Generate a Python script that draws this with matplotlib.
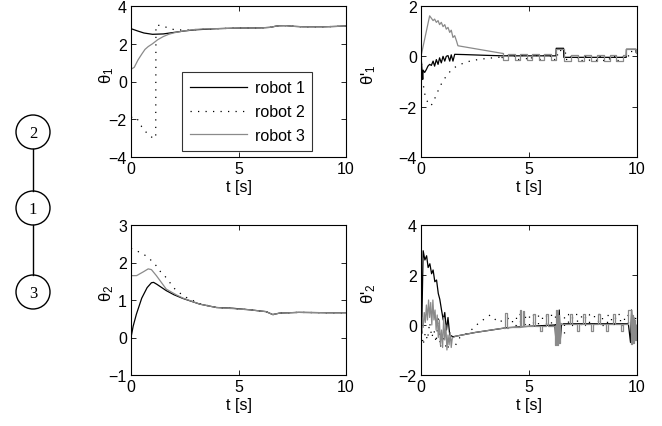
import matplotlib
matplotlib.use("Agg")
import matplotlib.pyplot as plt
from matplotlib.patches import Circle

plt.rcParams['font.family'] = ['Liberation Sans', 'DejaVu Sans']
plt.rcParams['mathtext.fontset'] = 'custom'
plt.rcParams['mathtext.rm'] = 'Liberation Sans'
plt.rcParams['mathtext.it'] = 'Liberation Sans'
plt.rcParams['mathtext.bf'] = 'Liberation Sans:bold'

# ---------------- data ----------------
labels = ["robot 1", "robot 2", "robot 3"]
xticks = [0, 5, 10]

# theta_1
tl_t1 = [0, 0.3, 0.6, 1.0, 1.5, 2.0, 2.5, 3.0, 4.0, 5.0, 6.0, 6.5, 6.8, 7.2, 7.6, 8.0, 9.0, 9.6, 10.0]
tl_v1 = [2.8, 2.68, 2.57, 2.5, 2.52, 2.6, 2.68, 2.74, 2.8, 2.83, 2.84, 2.87, 2.95, 2.96, 2.92, 2.9, 2.9, 2.92, 2.95]
tl_t2 = [0, 0.25, 0.5, 0.75, 1.0, 1.15, 1.16, 1.4, 1.7, 2.0, 2.5, 3.0, 4.0, 5.0, 6.0, 6.5, 6.8, 7.2, 7.6, 8.0, 9.0, 9.6, 10.0]
tl_v2 = [-1.9, -1.9, -2.4, -2.75, -2.98, -3.0, 2.98, 2.97, 2.85, 2.75, 2.72, 2.75, 2.8, 2.83, 2.84, 2.87, 2.95, 2.96, 2.92, 2.9, 2.9, 2.92, 2.95]
tl_t3 = [0, 0.15, 0.33, 0.5, 0.65, 0.8, 1.0, 1.25, 1.5, 1.75, 2.0, 2.4, 3.0, 3.5, 4.0, 5.0, 6.0, 6.5, 6.8, 7.2, 7.6, 8.0, 9.0, 9.6, 10.0]
tl_v3 = [0.65, 0.75, 1.15, 1.45, 1.7, 1.85, 2.0, 2.22, 2.38, 2.5, 2.58, 2.67, 2.76, 2.79, 2.8, 2.83, 2.84, 2.87, 2.95, 2.96, 2.92, 2.9, 2.9, 2.92, 2.95]
tl_yticks = [-4, -2, 0, 2, 4]

# theta_1 dot
tr_t1 = [0, 0.08, 0.1, 0.17, 0.25, 0.32, 0.40, 0.48, 0.56, 0.63, 0.71, 0.79, 0.86, 0.94, 1.02, 1.10, 1.17, 1.25,
         1.33, 1.40, 1.48, 1.56, 2.0, 3.0, 3.8, 5.0, 6.25, 6.26, 6.6, 6.61, 7.5, 8.5, 9.5, 9.51, 9.95, 9.96, 10.0]
tr_v1 = [0, -0.9, -0.55, -0.64, -0.52, -0.39, -0.32, -0.36, -0.19, -0.39, -0.13, -0.32, -0.06, -0.26, 0.0, -0.19, 0.0, 0.03,
         -0.19, 0.06, -0.19, 0.08, 0.07, 0.04, 0.02, 0.02, 0.02, 0.32, 0.32, -0.04, -0.04, -0.04, -0.04, 0.28, 0.28, 0.15, 0.15]
tr_t2 = [0, 0.08, 0.16, 0.25, 0.35, 0.45, 0.55, 0.7, 0.85, 1.0, 1.2, 1.4, 1.6, 1.8, 2.0, 2.3, 2.7, 3.2, 3.7]
tr_v2 = [0, -0.95, -1.45, -1.72, -1.88, -1.97, -1.85, -1.55, -1.25, -1.0, -0.75, -0.55, -0.42, -0.33, -0.26, -0.18, -0.12, -0.07, -0.03]
tr_t2_tail = [3.7, 4.0, 4.3, 4.55, 4.85, 5.1, 5.4, 5.65, 5.95, 6.3, 6.65, 6.9, 7.2, 7.5, 7.8, 8.1, 8.4, 8.7, 9.0, 9.3, 9.6, 10.0]
tr_v2_tail = [-0.03, 0.05, -0.1, 0.05, -0.1, 0.05, -0.1, 0.05, -0.1, 0.25, -0.1, 0.0, -0.15, 0.0, -0.15, 0.0, -0.15, 0.0, -0.15, 0.0, 0.2, 0.2]
tr_t3 = [0, 0.40, 0.56, 0.63, 0.71, 0.79, 0.86, 0.94, 1.02, 1.10, 1.17, 1.25, 1.33, 1.40, 1.48, 1.56, 1.64, 1.71, 3.75]
tr_v3 = [0, 1.61, 1.42, 1.48, 1.35, 1.42, 1.26, 1.35, 1.18, 1.26, 1.08, 1.15, 0.95, 1.04, 0.75, 0.82, 0.62, 0.42, 0.12]
tr_t3_tail = [3.75, 3.8, 4.05, 4.35, 4.6, 4.9, 5.15, 5.45, 5.7, 6.0, 6.25, 6.6, 6.95, 7.25, 7.55, 7.85, 8.15, 8.45, 8.75, 9.05, 9.35, 9.5, 9.95, 10.0]
tr_v3_tail = [0.12, -0.15, 0.1, -0.15, 0.1, -0.15, 0.1, -0.15, 0.1, -0.15, 0.3, -0.18, 0.05, -0.18, 0.05, -0.18, 0.05, -0.18, 0.05, -0.18, 0.05, 0.3, 0.12, 0.12]
tr_yticks = [-4, -2, 0, 2]

# theta_2
bl_t1 = [0, 0.1, 0.25, 0.5, 0.75, 0.95, 1.05, 1.2, 1.64, 2.0, 2.42, 3.2, 3.97, 4.74, 5.5, 6.28, 6.6, 6.9, 7.8, 9.2, 10]
bl_v1 = [0, 0.3, 0.62, 1.05, 1.33, 1.46, 1.47, 1.42, 1.25, 1.14, 1.04, 0.89, 0.8, 0.78, 0.74, 0.69, 0.61, 0.65, 0.67, 0.66, 0.66]
bl_t2 = [0.0, 0.26, 0.57, 0.88, 1.18, 1.33, 1.56, 1.8, 2.1, 2.57, 3.2, 3.97, 4.74, 5.5, 6.28, 6.6, 6.9, 7.8, 9.2, 10]
bl_v2 = [2.38, 2.31, 2.23, 2.09, 1.91, 1.78, 1.65, 1.47, 1.25, 1.07, 0.9, 0.8, 0.77, 0.74, 0.69, 0.61, 0.65, 0.67, 0.66, 0.66]
bl_t3 = [0, 0.26, 0.57, 0.8, 0.95, 1.18, 1.41, 1.64, 2.1, 2.42, 3.2, 3.97, 4.74, 5.5, 6.28, 6.6, 6.9, 7.8, 9.2, 10]
bl_v3 = [1.65, 1.65, 1.75, 1.83, 1.81, 1.65, 1.47, 1.29, 1.14, 1.05, 0.89, 0.8, 0.77, 0.74, 0.69, 0.61, 0.65, 0.67, 0.66, 0.66]
bl_yticks = [-1, 0, 1, 2, 3]

# theta_2 dot
br_t1 = [0, 0.03, 0.1, 0.18, 0.26, 0.33, 0.41, 0.49, 0.56, 0.64, 0.72, 0.8, 0.87, 0.95, 1.03, 1.1, 1.18, 1.25, 1.33,
         1.48, 2.5, 3.96, 5.05, 6.2, 6.25, 6.3, 6.35, 6.4, 6.45, 6.5, 6.6, 8.0, 9.6, 9.7, 9.75, 9.8, 9.85, 9.9, 9.95, 10.0]
br_v1 = [0, -0.3, 2.97, 2.6, 2.77, 2.3, 2.45, 2.05, 2.2, 1.73, 1.8, 1.26, 1.03, 0.6, 0.2, 0.5, -0.2, 0.3, -0.4,
         -0.47, -0.3, -0.11, -0.05, 0.0, -0.7, 0.5, -0.7, 0.6, -0.6, 0.0, 0.05, 0.05, 0.05, -0.7, 0.6, -0.7, 0.3, -0.5, 0.0, -0.6]
br_t2 = [0, 0.1, 0.2, 0.3, 0.4, 0.5, 0.6, 0.7, 0.8, 0.9, 1.0, 1.2, 1.4, 1.6, 1.8, 2.2, 2.7, 3.2, 3.6, 4.0]
br_v2 = [0, -0.8, -0.3, -0.6, 0.1, -0.5, -0.2, -0.7, 0.3, -0.9, -0.4, -1.0, -0.6, -0.8, -0.5, -0.3, 0.1, 0.4, 0.1, 0.3]
br_t2_tail = [4.0, 4.2, 4.4, 4.6, 4.8, 5.0, 5.2, 5.4, 5.6, 5.8, 6.0, 6.2, 6.4, 6.6, 6.8, 7.0, 7.2, 7.4, 7.6, 7.8,
              8.0, 8.2, 8.4, 8.6, 8.8, 9.0, 9.2, 9.4, 9.6, 9.8, 10.0]
br_v2_tail = [0.3, 0.0, 0.45, 0.05, 0.4, 0.0, 0.45, -0.05, 0.4, 0.05, 0.45, 0.0, -0.4, 0.45, 0.0, 0.45, 0.05, 0.4, 0.0, 0.45,
              0.05, 0.45, 0.0, 0.4, 0.05, 0.45, 0.0, 0.4, 0.05, 0.3, 0.3]
br_t3 = [0, 0.05, 0.1, 0.15, 0.2, 0.25, 0.3, 0.35, 0.4, 0.45, 0.5, 0.55, 0.6, 0.65, 0.7, 0.75, 0.8, 0.85, 0.9, 0.95,
         1.0, 1.05, 1.1, 1.15, 1.2, 1.25, 1.3, 1.35, 1.4, 1.45, 1.5, 1.6, 2.5, 3.85]
br_v3 = [0, 0.3, -0.1, 0.5, 0.1, 0.8, 0.2, 1.0, 0.3, 0.9, 0.0, 1.0, 0.2, 0.6, -0.2, 0.4, -0.5, 0.2, -0.8, -0.2,
         -0.9, 0.3, -0.6, 0.0, -1.0, -0.4, -0.8, -0.3, -0.9, -0.5, -0.5, -0.45, -0.3, -0.12]
br_t3_tail = [3.85, 3.9, 3.97, 4.02, 4.6, 4.65, 4.72, 4.77, 5.2, 5.3, 5.5, 5.6, 5.8, 5.9, 6.2, 6.25, 6.3, 6.35, 6.4, 6.45,
              6.5, 6.9, 7.0, 7.2, 7.3, 7.5, 7.6, 7.85, 7.95, 8.2, 8.3, 8.55, 8.65, 8.9, 9.0, 9.25, 9.35, 9.6, 9.7, 9.75,
              9.8, 9.85, 9.9, 9.95, 10.0]
br_v3_tail = [-0.12, 0.5, -0.1, -0.08, 0.6, -0.05, 0.55, -0.05, 0.45, -0.05, -0.25, -0.05, 0.45, -0.05, -0.8, 0.6, -0.8, 0.4, -0.7, 0.1,
              0.05, 0.45, 0.05, -0.25, 0.05, 0.45, 0.05, -0.25, 0.05, 0.45, 0.05, -0.25, 0.05, 0.45, 0.05, -0.25, 0.05, 0.6, -0.75, 0.4,
              -0.7, 0.2, -0.6, 0.0, 0.0]
br_yticks = [-2, 0, 2, 4]

# ---------------- styles ----------------
BLACK = 'black'
GRAY = '#8a8a8a'
LW = 0.9
DOT = (0, (1, 5))
FS = 11.5

W, H = 662, 427
fig = plt.figure(figsize=(W / 100, H / 100), dpi=100)


def px_axes(x0, y0, x1, y1):
    return fig.add_axes([x0 / W, 1 - y1 / H, (x1 - x0) / W, (y1 - y0) / H])


def style(ax, yticks, ylabel, lx):
    ax.set_xlim(0, 10)
    ax.set_ylim(yticks[0], yticks[-1])
    ax.set_xticks(xticks)
    ax.set_yticks(yticks)
    ax.set_xticklabels([str(v) for v in xticks])
    ax.set_yticklabels([str(v).replace('-', '\u2212') for v in yticks])
    ax.tick_params(direction='in', top=True, right=True, length=3.5, width=0.6,
                   labelsize=FS, pad=3)
    for s in ax.spines.values():
        s.set_linewidth(0.8)
    ax.set_xlabel('t [s]', fontsize=FS, labelpad=2)
    ax.set_ylabel(ylabel, fontsize=FS + 0.5)
    ax.yaxis.set_label_coords(lx, 0.55)


ax_tl = px_axes(131, 7, 346, 158)
ax_tr = px_axes(421, 7, 637, 158)
ax_bl = px_axes(131, 226, 346, 376)
ax_br = px_axes(421, 226, 637, 376)

# theta_1
ax_tl.plot(tl_t1, tl_v1, color=BLACK, lw=LW, label=labels[0])
ax_tl.plot(tl_t2, tl_v2, color=BLACK, lw=LW, ls=DOT, label=labels[1])
ax_tl.plot(tl_t3, tl_v3, color=GRAY, lw=LW, label=labels[2])
style(ax_tl, tl_yticks, 'θ$_{1}$', -0.07)

# theta_1 dot
ax_tr.plot(tr_t1, tr_v1, color=BLACK, lw=LW)
ax_tr.plot(tr_t2, tr_v2, color=BLACK, lw=LW, ls=DOT)
ax_tr.plot(tr_t2_tail, tr_v2_tail, color=BLACK, lw=LW, ls=DOT, drawstyle='steps-post')
ax_tr.plot(tr_t3, tr_v3, color=GRAY, lw=LW)
ax_tr.plot(tr_t3_tail, tr_v3_tail, color=GRAY, lw=LW, drawstyle='steps-post')
style(ax_tr, tr_yticks, "θ'$_{1}$", -0.2)

# theta_2
ax_bl.plot(bl_t1, bl_v1, color=BLACK, lw=LW)
ax_bl.plot(bl_t2, bl_v2, color=BLACK, lw=LW, ls=DOT)
ax_bl.plot(bl_t3, bl_v3, color=GRAY, lw=LW)
style(ax_bl, bl_yticks, 'θ$_{2}$', -0.07)

# theta_2 dot
ax_br.plot(br_t1, br_v1, color=BLACK, lw=LW)
ax_br.plot(br_t2, br_v2, color=BLACK, lw=LW, ls=DOT)
ax_br.plot(br_t2_tail, br_v2_tail, color=BLACK, lw=LW, ls=DOT, drawstyle='steps-post')
ax_br.plot(br_t3, br_v3, color=GRAY, lw=LW)
ax_br.plot(br_t3_tail, br_v3_tail, color=GRAY, lw=LW, drawstyle='steps-post')
style(ax_br, br_yticks, "θ'$_{2}$", -0.2)

leg = ax_tl.legend(loc='lower left', bbox_to_anchor=(0.237, 0.04, 0.605, 0.536), mode='expand',
                   fontsize=FS, frameon=True, fancybox=False, borderaxespad=0,
                   handlelength=3.6, handletextpad=0.5, labelspacing=0.55, borderpad=0.5)
leg.get_frame().set_edgecolor('black')
leg.get_frame().set_linewidth(0.8)

# graph diagram
axg = fig.add_axes([0, 0, 1, 1], zorder=-1)
axg.set_xlim(0, W)
axg.set_ylim(H, 0)
axg.axis('off')
nodes = {"2": 133, "1": 209, "3": 293}
R = 17
for name, cy in nodes.items():
    axg.add_patch(Circle((33, cy), R, fill=False, lw=1.0, ec='black'))
    axg.text(33, cy + 1, name, ha='center', va='center', fontsize=12,
             family=['Liberation Serif', 'DejaVu Serif'])
axg.plot([33, 33], [133 + R, 209 - R], color='black', lw=1.0)
axg.plot([33, 33], [209 + R, 293 - R], color='black', lw=1.0)

fig.savefig('out.png', dpi=100)
